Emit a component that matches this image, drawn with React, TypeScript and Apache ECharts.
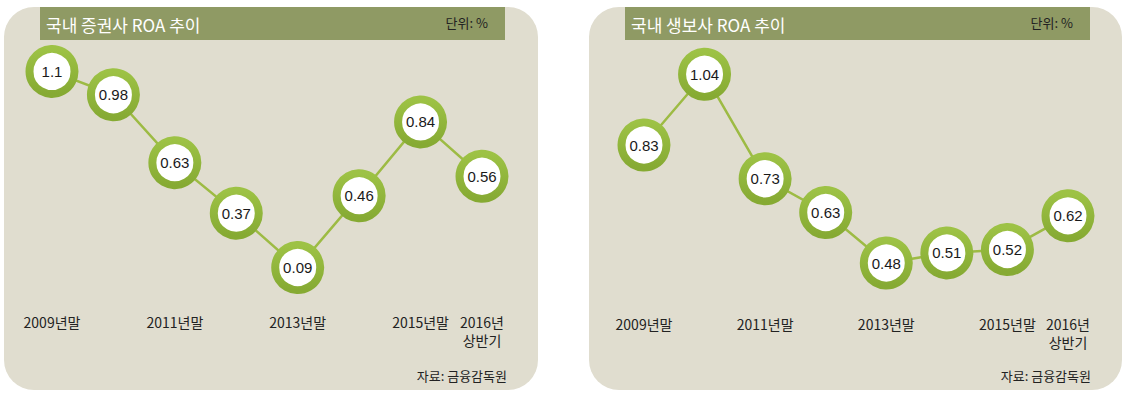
import React, { useEffect, useRef } from "react";
import * as echarts from "echarts";

const categories = ["2009년말", "2010년말", "2011년말", "2012년말", "2013년말", "2014년말", "2015년말", "2016년\n상반기"];
const tickLabels = ["2009년말", "", "2011년말", "", "2013년말", "", "2015년말", "2016년\n상반기"];
const securitiesROA = [1.1, 0.98, 0.63, 0.37, 0.09, 0.46, 0.84, 0.56];
const lifeInsuranceROA = [0.83, 1.04, 0.73, 0.63, 0.48, 0.51, 0.52, 0.62];
const titles = ["국내 증권사 ROA 추이", "국내 생보사 ROA 추이"];
const unitText = "단위: %";
const sourceText = "자료: 금융감독원";

const FONT = '"Noto Sans CJK KR", "Noto Sans", sans-serif';
const PANEL_BG = "#e0ddcf";
const HEADER_BG = "#8f9a64";
const LINE_COLOR = "#9dbb44";

const ringColor = new echarts.graphic.LinearGradient(0, 0, 0, 1, [
  { offset: 0, color: "#9dc245" },
  { offset: 1, color: "#86aa33" },
]);

function makeSeries(data: number[], idx: number) {
  return {
    type: "line",
    xAxisIndex: idx,
    yAxisIndex: idx,
    data,
    symbol: "circle",
    symbolSize: 45,
    lineStyle: { color: LINE_COLOR, width: 2.5 },
    itemStyle: { color: "#ffffff", borderColor: ringColor, borderWidth: 8 },
    label: {
      show: true,
      position: "inside",
      fontFamily: '"Liberation Sans", Arial, sans-serif',
      fontSize: 15,
      color: "#1a1a1a",
      formatter: (p: any) => String(p.value),
    },
    z: 3,
  };
}

function panelGraphics(x: number, w: number, headerX: number, headerW: number, idx: number) {
  return [
    {
      type: "rect",
      shape: { x, y: 7, width: w, height: 383, r: 30 },
      style: { fill: PANEL_BG },
      z: 0,
    },
    {
      type: "rect",
      shape: { x: headerX, y: 7, width: headerW, height: 33 },
      style: { fill: HEADER_BG },
      z: 1,
    },
    {
      type: "text",
      x: headerX + 6,
      y: 24,
      style: {
        text: titles[idx],
        fill: "#ffffff",
        font: `normal 17px ${FONT}`,
        verticalAlign: "middle",
      },
      z: 2,
    },
    {
      type: "text",
      x: headerX + headerW - 17,
      y: 22,
      style: {
        text: unitText,
        fill: "#222222",
        font: `13px ${FONT}`,
        align: "right",
        verticalAlign: "middle",
      },
      z: 2,
    },
    {
      type: "text",
      x: x + w - 31,
      y: 375,
      style: {
        text: sourceText,
        fill: "#222222",
        font: `13px ${FONT}`,
        align: "right",
        verticalAlign: "middle",
      },
      z: 2,
    },
  ];
}

function makeXAxis(idx: number, margin: number) {
  return {
    type: "category",
    gridIndex: idx,
    data: categories,
    boundaryGap: false,
    axisLine: { show: false },
    axisTick: { show: false },
    splitLine: { show: false },
    axisLabel: {
      interval: 0,
      margin,
      fontFamily: FONT,
      fontSize: 14,
      color: "#222222",
      lineHeight: 18,
      formatter: (_v: string, i: number) => tickLabels[i],
    },
  };
}

export default function App() {
  const ref = useRef<HTMLDivElement>(null);
  useEffect(() => {
    if (!ref.current) return;
    const chart = echarts.init(ref.current, null, { renderer: "svg" });
    chart.setOption({
      animation: false,
      backgroundColor: "#ffffff",
      textStyle: { fontFamily: FONT },
      graphic: { elements: [...panelGraphics(4, 534, 40, 465, 0), ...panelGraphics(589, 533, 625, 465, 1)] },
      grid: [
        { left: 52, width: 430, top: 52, height: 233 },
        { left: 644, width: 424, top: 54, height: 236 },
      ],
      xAxis: [makeXAxis(0, 28), makeXAxis(1, 25)],
      yAxis: [
        { type: "value", gridIndex: 0, min: 0, max: 1.2, show: false, splitLine: { show: false } },
        { type: "value", gridIndex: 1, min: 0.4, max: 1.1, show: false, splitLine: { show: false } },
      ],
      series: [makeSeries(securitiesROA, 0), makeSeries(lifeInsuranceROA, 1)],
    });
    return () => chart.dispose();
  }, []);
  return (
    <div
      ref={ref}
      style={{ position: "absolute", left: 0, top: 0, width: 1126, height: 397 }}
    />
  );
}
